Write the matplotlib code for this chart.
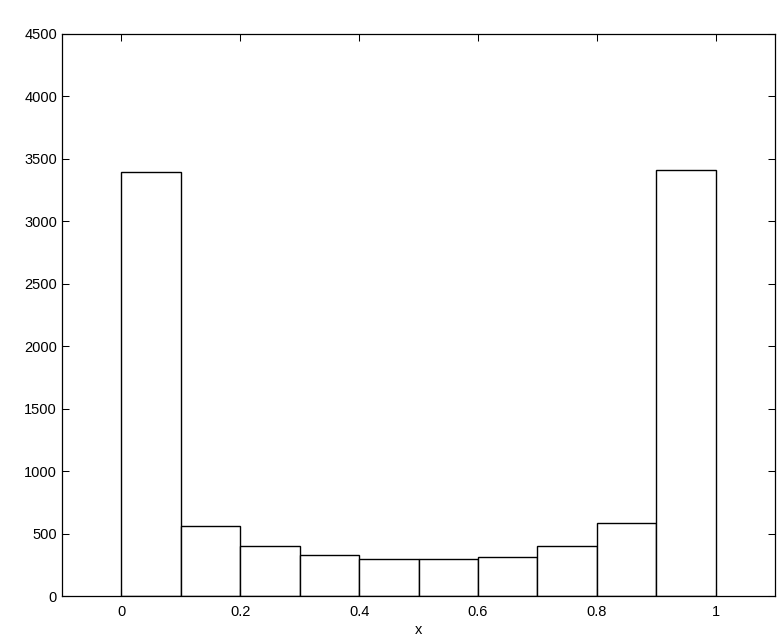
import numpy as np
import matplotlib
matplotlib.use('Agg')
import matplotlib.pyplot as plt

plt.rc('font', family=['Liberation Sans', 'DejaVu Sans'], size=10.5)

# histogram bin edges and counts
edges = [0.0, 0.1, 0.2, 0.3, 0.4, 0.5, 0.6, 0.7, 0.8, 0.9, 1.0]
counts = [3392, 562, 400, 328, 296, 296, 312, 400, 584, 3408]
xticks = [0, 0.2, 0.4, 0.6, 0.8, 1]
xticklabels = ['0', '0.2', '0.4', '0.6', '0.8', '1']
yticks = [0, 500, 1000, 1500, 2000, 2500, 3000, 3500, 4000, 4500]

fig = plt.figure(figsize=(7.83, 6.4), dpi=100)
ax = fig.add_axes([0.0792, 0.0683, 0.9106, 0.8787])

lefts = np.array(edges[:-1])
widths = np.diff(edges)
ax.bar(lefts, counts, width=widths, align='edge', facecolor='white', edgecolor='black', linewidth=1.0)

ax.set_xlim(-0.1, 1.1)
ax.set_ylim(0, 4500)
ax.set_xticks(xticks)
ax.set_xticklabels(xticklabels)
ax.set_yticks(yticks)
ax.tick_params(direction='in', length=5, width=0.75, top=True, right=True)
ax.tick_params(axis='x', pad=6.5)
ax.tick_params(axis='y', pad=3.6)
for s in ax.spines.values():
    s.set_linewidth(0.9)
ax.set_xlabel('x', labelpad=3)

fig.savefig('out.png', dpi=100)
